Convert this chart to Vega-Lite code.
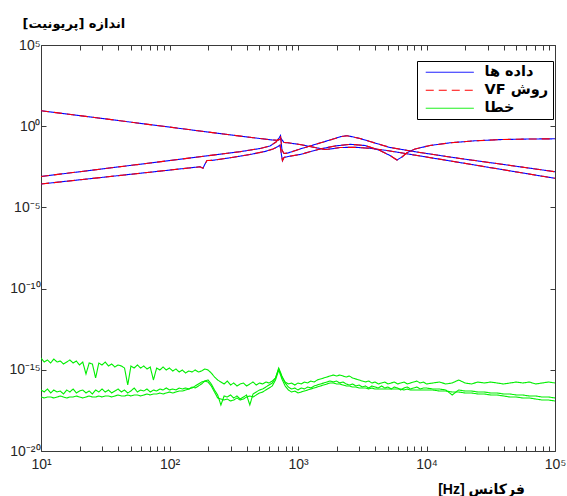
{
  "$schema": "https://vega.github.io/schema/vega-lite/v6.json",
  "width": 514,
  "height": 406,
  "autosize": {"type": "none"},
  "padding": {"left": 41, "top": 45, "right": 12, "bottom": 45},
  "background": "white",
  "config": {
    "view": {"stroke": null},
    "font": "Liberation Sans",
    "axis": {
      "grid": false,
      "domainColor": "#3a3a3a",
      "tickColor": "#3a3a3a",
      "domainWidth": 1,
      "tickWidth": 1,
      "labelColor": "#262626",
      "labelFont": "Liberation Sans",
      "labelFontSize": 14,
      "labelFlush": false,
      "labelOverlap": false
    }
  },
  "datasets": {
    "resp": [
      {"f": 10, "curve": "A", "m": 9.0},
      {"f": 28.8, "curve": "A", "m": 3.11},
      {"f": 70.5, "curve": "A", "m": 1.256},
      {"f": 172.6, "curve": "A", "m": 0.506},
      {"f": 422.9, "curve": "A", "m": 0.2074},
      {"f": 628.1, "curve": "A", "m": 0.1413},
      {"f": 698.6, "curve": "A", "m": 0.1355},
      {"f": 737.7, "curve": "A", "m": 0.1749},
      {"f": 778, "curve": "A", "m": 0.0991},
      {"f": 835.6, "curve": "A", "m": 0.095},
      {"f": 1037, "curve": "A", "m": 0.0746},
      {"f": 1355, "curve": "A", "m": 0.0488},
      {"f": 1622, "curve": "A", "m": 0.0367},
      {"f": 1841, "curve": "A", "m": 0.0406},
      {"f": 2123, "curve": "A", "m": 0.0488},
      {"f": 2780, "curve": "A", "m": 0.0502},
      {"f": 3631, "curve": "A", "m": 0.0436},
      {"f": 4929, "curve": "A", "m": 0.0319},
      {"f": 7047, "curve": "A", "m": 0.02},
      {"f": 15240, "curve": "A", "m": 0.0073},
      {"f": 37320, "curve": "A", "m": 0.00225},
      {"f": 100000, "curve": "A", "m": 0.000619},

      {"f": 10, "curve": "B", "m": 0.0008},
      {"f": 28.8, "curve": "B", "m": 0.00225},
      {"f": 70.5, "curve": "B", "m": 0.00542},
      {"f": 172.6, "curve": "B", "m": 0.01324},
      {"f": 353.9, "curve": "B", "m": 0.0269},
      {"f": 505.8, "curve": "B", "m": 0.0424},
      {"f": 605.3, "curve": "B", "m": 0.0604},
      {"f": 674.5, "curve": "B", "m": 0.1064},
      {"f": 711.6, "curve": "B", "m": 0.1875},
      {"f": 730.9, "curve": "B", "m": 0.2673},
      {"f": 750.4, "curve": "B", "m": 0.0342},
      {"f": 778, "curve": "B", "m": 0.0208},
      {"f": 835.6, "curve": "B", "m": 0.0224},
      {"f": 1037, "curve": "B", "m": 0.0394},
      {"f": 1483, "curve": "B", "m": 0.0925},
      {"f": 1941, "curve": "B", "m": 0.175},
      {"f": 2150, "curve": "B", "m": 0.229},
      {"f": 2405, "curve": "B", "m": 0.26},
      {"f": 2700, "curve": "B", "m": 0.216},
      {"f": 3036, "curve": "B", "m": 0.175},
      {"f": 3631, "curve": "B", "m": 0.1143},
      {"f": 5200, "curve": "B", "m": 0.0488},
      {"f": 8899, "curve": "B", "m": 0.024},
      {"f": 18230, "curve": "B", "m": 0.01026},
      {"f": 37320, "curve": "B", "m": 0.0047},
      {"f": 100000, "curve": "B", "m": 0.001578},

      {"f": 10, "curve": "C", "m": 0.000276},
      {"f": 28.8, "curve": "C", "m": 0.000684},
      {"f": 70.5, "curve": "C", "m": 0.001469},
      {"f": 157.8, "curve": "C", "m": 0.00294},
      {"f": 172.6, "curve": "C", "m": 0.00316},
      {"f": 182.3, "curve": "C", "m": 0.00259},
      {"f": 188.9, "curve": "C", "m": 0.0047},
      {"f": 195.8, "curve": "C", "m": 0.00773},
      {"f": 214.2, "curve": "C", "m": 0.00783},
      {"f": 295.8, "curve": "C", "m": 0.01132},
      {"f": 422.9, "curve": "C", "m": 0.01807},
      {"f": 553.4, "curve": "C", "m": 0.0277},
      {"f": 638.8, "curve": "C", "m": 0.0394},
      {"f": 698.6, "curve": "C", "m": 0.0562},
      {"f": 724.4, "curve": "C", "m": 0.0695},
      {"f": 744, "curve": "C", "m": 0.01687},
      {"f": 756.8, "curve": "C", "m": 0.00752},
      {"f": 778, "curve": "C", "m": 0.01183},
      {"f": 835.6, "curve": "C", "m": 0.01361},
      {"f": 1037, "curve": "C", "m": 0.01807},
      {"f": 1483, "curve": "C", "m": 0.0394},
      {"f": 1941, "curve": "C", "m": 0.0604},
      {"f": 2541, "curve": "C", "m": 0.0767},
      {"f": 3321, "curve": "C", "m": 0.0648},
      {"f": 4345, "curve": "C", "m": 0.0319},
      {"f": 5200, "curve": "C", "m": 0.0157},
      {"f": 5893, "curve": "C", "m": 0.0083},
      {"f": 6442, "curve": "C", "m": 0.01268},
      {"f": 7047, "curve": "C", "m": 0.0233},
      {"f": 8147, "curve": "C", "m": 0.0394},
      {"f": 10640, "curve": "C", "m": 0.0648},
      {"f": 15240, "curve": "C", "m": 0.0951},
      {"f": 23840, "curve": "C", "m": 0.1262},
      {"f": 37320, "curve": "C", "m": 0.1496},
      {"f": 63830, "curve": "C", "m": 0.163},
      {"f": 100000, "curve": "C", "m": 0.1675}
    ],
    "err": [
      {"f": 10, "a": 5.33e-15, "b": 5.70e-17, "c": 2.11e-17},
      {"f": 10.59, "a": 3.02e-15, "b": 4.30e-17, "c": 1.84e-17},
      {"f": 11.22, "a": 4.02e-15, "b": 6.58e-17, "c": 2.11e-17},
      {"f": 11.89, "a": 2.62e-15, "b": 3.73e-17, "c": 2.11e-17},
      {"f": 12.59, "a": 4.62e-15, "b": 5.70e-17, "c": 1.84e-17},
      {"f": 13.34, "a": 3.02e-15, "b": 4.30e-17, "c": 2.11e-17},
      {"f": 14.13, "a": 3.48e-15, "b": 4.95e-17, "c": 2.44e-17},
      {"f": 14.96, "a": 2.28e-15, "b": 3.24e-17, "c": 2.11e-17},
      {"f": 15.85, "a": 3.02e-15, "b": 5.70e-17, "c": 1.84e-17},
      {"f": 16.79, "a": 4.02e-15, "b": 4.30e-17, "c": 2.11e-17},
      {"f": 17.78, "a": 2.62e-15, "b": 6.58e-17, "c": 2.11e-17},
      {"f": 18.84, "a": 3.48e-15, "b": 3.73e-17, "c": 2.44e-17},
      {"f": 19.95, "a": 1.98e-15, "b": 4.95e-17, "c": 2.11e-17},
      {"f": 21.13, "a": 3.02e-15, "b": 5.70e-17, "c": 1.84e-17},
      {"f": 22.39, "a": 5.52e-16, "b": 3.73e-17, "c": 2.11e-17},
      {"f": 23.71, "a": 2.62e-15, "b": 4.95e-17, "c": 2.44e-17},
      {"f": 25.12, "a": 2.28e-15, "b": 3.24e-17, "c": 2.11e-17},
      {"f": 26.61, "a": 3.13e-16, "b": 5.70e-17, "c": 2.11e-17},
      {"f": 28.18, "a": 2.62e-15, "b": 4.30e-17, "c": 2.44e-17},
      {"f": 29.85, "a": 1.98e-15, "b": 6.58e-17, "c": 2.11e-17},
      {"f": 31.62, "a": 3.02e-15, "b": 4.30e-17, "c": 2.44e-17},
      {"f": 33.5, "a": 1.71e-15, "b": 5.70e-17, "c": 2.44e-17},
      {"f": 35.48, "a": 2.28e-15, "b": 3.73e-17, "c": 2.11e-17},
      {"f": 37.58, "a": 1.49e-15, "b": 4.95e-17, "c": 2.44e-17},
      {"f": 39.81, "a": 1.98e-15, "b": 6.58e-17, "c": 2.81e-17},
      {"f": 42.17, "a": 1.71e-15, "b": 4.30e-17, "c": 2.44e-17},
      {"f": 44.67, "a": 1.29e-15, "b": 5.70e-17, "c": 2.44e-17},
      {"f": 47.32, "a": 1.16e-16, "b": 3.73e-17, "c": 2.81e-17},
      {"f": 50.12, "a": 1.71e-15, "b": 4.95e-17, "c": 2.44e-17},
      {"f": 53.09, "a": 1.29e-15, "b": 7.57e-17, "c": 2.81e-17},
      {"f": 56.23, "a": 1.98e-15, "b": 4.30e-17, "c": 2.81e-17},
      {"f": 59.57, "a": 1.29e-15, "b": 5.70e-17, "c": 2.44e-17},
      {"f": 63.1, "a": 1.71e-15, "b": 4.95e-17, "c": 2.81e-17},
      {"f": 66.83, "a": 1.12e-15, "b": 6.58e-17, "c": 3.24e-17},
      {"f": 70.79, "a": 1.49e-15, "b": 4.30e-17, "c": 2.81e-17},
      {"f": 74.99, "a": 2.36e-16, "b": 5.70e-17, "c": 3.24e-17},
      {"f": 79.43, "a": 1.29e-15, "b": 4.95e-17, "c": 3.24e-17},
      {"f": 84.14, "a": 9.7e-16, "b": 6.58e-17, "c": 3.73e-17},
      {"f": 89.13, "a": 1.49e-15, "b": 5.70e-17, "c": 3.24e-17},
      {"f": 94.41, "a": 9.7e-16, "b": 7.57e-17, "c": 3.73e-17},
      {"f": 100, "a": 1.29e-15, "b": 5.70e-17, "c": 4.30e-17},
      {"f": 105.9, "a": 8.43e-16, "b": 6.58e-17, "c": 3.73e-17},
      {"f": 112.2, "a": 1.12e-15, "b": 5.70e-17, "c": 4.30e-17},
      {"f": 118.9, "a": 7.33e-16, "b": 7.57e-17, "c": 4.95e-17},
      {"f": 125.9, "a": 9.7e-16, "b": 6.58e-17, "c": 4.95e-17},
      {"f": 133.4, "a": 6.35e-16, "b": 7.57e-17, "c": 5.70e-17},
      {"f": 141.3, "a": 8.43e-16, "b": 6.58e-17, "c": 6.58e-17},
      {"f": 149.6, "a": 7.33e-16, "b": 8.73e-17, "c": 7.57e-17},
      {"f": 158.5, "a": 9.7e-16, "b": 7.57e-17, "c": 1.01e-16},
      {"f": 167.9, "a": 7.33e-16, "b": 1.01e-16, "c": 1.34e-16},
      {"f": 177.8, "a": 8.43e-16, "b": 1.34e-16, "c": 1.77e-16},
      {"f": 188.4, "a": 1.12e-15, "b": 2.04e-16, "c": 2.04e-16},
      {"f": 199.5, "a": 9.7e-16, "b": 2.36e-16, "c": 1.77e-16},
      {"f": 211.3, "a": 6.35e-16, "b": 1.34e-16, "c": 1.01e-16},
      {"f": 223.9, "a": 3.61e-16, "b": 5.70e-17, "c": 4.30e-17},
      {"f": 237.1, "a": 2.36e-16, "b": 2.81e-17, "c": 1.84e-17},
      {"f": 251.2, "a": 1.77e-16, "b": 6.81e-18, "c": 1.59e-17},
      {"f": 266.1, "a": 1.34e-16, "b": 2.44e-17, "c": 1.38e-17},
      {"f": 281.8, "a": 2.04e-16, "b": 2.11e-17, "c": 1.59e-17},
      {"f": 298.5, "a": 1.16e-16, "b": 2.81e-17, "c": 1.20e-17},
      {"f": 316.2, "a": 1.54e-16, "b": 1.84e-17, "c": 1.38e-17},
      {"f": 335, "a": 1.01e-16, "b": 2.44e-17, "c": 1.84e-17},
      {"f": 354.8, "a": 1.34e-16, "b": 1.59e-17, "c": 1.38e-17},
      {"f": 375.8, "a": 1.54e-16, "b": 2.11e-17, "c": 1.59e-17},
      {"f": 398.1, "a": 1.01e-16, "b": 2.81e-17, "c": 2.11e-17},
      {"f": 421.7, "a": 1.34e-16, "b": 6.81e-18, "c": 2.44e-17},
      {"f": 446.7, "a": 1.77e-16, "b": 3.24e-17, "c": 2.11e-17},
      {"f": 473.2, "a": 1.16e-16, "b": 4.30e-17, "c": 2.81e-17},
      {"f": 501.2, "a": 1.54e-16, "b": 5.70e-17, "c": 3.73e-17},
      {"f": 530.9, "a": 1.34e-16, "b": 6.58e-17, "c": 4.30e-17},
      {"f": 562.3, "a": 1.77e-16, "b": 8.73e-17, "c": 5.70e-17},
      {"f": 595.7, "a": 1.54e-16, "b": 1.16e-16, "c": 7.57e-17},
      {"f": 631, "a": 2.04e-16, "b": 1.54e-16, "c": 1.01e-16},
      {"f": 668.3, "a": 3.13e-16, "b": 3.13e-16, "c": 2.36e-16},
      {"f": 707.9, "a": 1.12e-15, "b": 1.29e-15, "c": 9.7e-16},
      {"f": 749.9, "a": 3.61e-16, "b": 4.15e-16, "c": 2.72e-16},
      {"f": 794.3, "a": 1.77e-16, "b": 1.54e-16, "c": 1.01e-16},
      {"f": 841.4, "a": 1.34e-16, "b": 8.73e-17, "c": 5.70e-17},
      {"f": 891.3, "a": 1.54e-16, "b": 6.58e-17, "c": 4.30e-17},
      {"f": 944.1, "a": 1.16e-16, "b": 7.57e-17, "c": 4.95e-17},
      {"f": 1000, "a": 1.54e-16, "b": 5.70e-17, "c": 3.73e-17},
      {"f": 1059, "a": 1.34e-16, "b": 7.57e-17, "c": 4.30e-17},
      {"f": 1122, "a": 1.77e-16, "b": 6.58e-17, "c": 4.95e-17},
      {"f": 1189, "a": 1.54e-16, "b": 8.73e-17, "c": 5.70e-17},
      {"f": 1259, "a": 2.04e-16, "b": 7.57e-17, "c": 6.58e-17},
      {"f": 1334, "a": 1.77e-16, "b": 1.01e-16, "c": 7.57e-17},
      {"f": 1413, "a": 2.36e-16, "b": 1.16e-16, "c": 8.73e-17},
      {"f": 1496, "a": 2.72e-16, "b": 1.34e-16, "c": 1.01e-16},
      {"f": 1585, "a": 3.13e-16, "b": 1.54e-16, "c": 1.16e-16},
      {"f": 1679, "a": 3.61e-16, "b": 1.77e-16, "c": 1.34e-16},
      {"f": 1778, "a": 4.15e-16, "b": 2.04e-16, "c": 1.54e-16},
      {"f": 1884, "a": 4.79e-16, "b": 1.77e-16, "c": 1.54e-16},
      {"f": 1995, "a": 4.15e-16, "b": 2.04e-16, "c": 1.34e-16},
      {"f": 2113, "a": 4.79e-16, "b": 1.54e-16, "c": 1.34e-16},
      {"f": 2239, "a": 4.15e-16, "b": 1.77e-16, "c": 1.16e-16},
      {"f": 2371, "a": 3.61e-16, "b": 1.34e-16, "c": 1.01e-16},
      {"f": 2512, "a": 4.15e-16, "b": 1.16e-16, "c": 1.01e-16},
      {"f": 2661, "a": 3.13e-16, "b": 1.34e-16, "c": 8.73e-17},
      {"f": 2818, "a": 2.72e-16, "b": 1.01e-16, "c": 8.73e-17},
      {"f": 2985, "a": 2.36e-16, "b": 1.16e-16, "c": 7.57e-17},
      {"f": 3162, "a": 2.04e-16, "b": 8.73e-17, "c": 7.57e-17},
      {"f": 3350, "a": 1.77e-16, "b": 1.01e-16, "c": 7.57e-17},
      {"f": 3548, "a": 2.04e-16, "b": 7.57e-17, "c": 6.58e-17},
      {"f": 3758, "a": 1.54e-16, "b": 1.01e-16, "c": 7.57e-17},
      {"f": 3981, "a": 1.77e-16, "b": 8.73e-17, "c": 6.58e-17},
      {"f": 4217, "a": 1.34e-16, "b": 7.57e-17, "c": 6.58e-17},
      {"f": 4467, "a": 1.54e-16, "b": 1.01e-16, "c": 6.58e-17},
      {"f": 4732, "a": 1.77e-16, "b": 7.57e-17, "c": 6.58e-17},
      {"f": 5012, "a": 1.34e-16, "b": 8.73e-17, "c": 6.58e-17},
      {"f": 5309, "a": 1.54e-16, "b": 6.58e-17, "c": 6.58e-17},
      {"f": 5623, "a": 1.77e-16, "b": 8.73e-17, "c": 6.58e-17},
      {"f": 5957, "a": 1.34e-16, "b": 7.57e-17, "c": 6.58e-17},
      {"f": 6310, "a": 1.54e-16, "b": 5.70e-17, "c": 6.58e-17},
      {"f": 6683, "a": 1.77e-16, "b": 7.57e-17, "c": 5.70e-17},
      {"f": 7079, "a": 1.34e-16, "b": 8.73e-17, "c": 6.58e-17},
      {"f": 7499, "a": 1.54e-16, "b": 6.58e-17, "c": 5.70e-17},
      {"f": 7943, "a": 1.77e-16, "b": 7.57e-17, "c": 5.70e-17},
      {"f": 8414, "a": 2.04e-16, "b": 8.73e-17, "c": 5.70e-17},
      {"f": 8913, "a": 1.54e-16, "b": 6.58e-17, "c": 5.70e-17},
      {"f": 9441, "a": 1.77e-16, "b": 7.57e-17, "c": 5.70e-17},
      {"f": 10000, "a": 1.34e-16, "b": 7.57e-17, "c": 5.70e-17},
      {"f": 11220, "a": 1.54e-16, "b": 6.58e-17, "c": 5.70e-17},
      {"f": 12590, "a": 1.77e-16, "b": 6.58e-17, "c": 4.95e-17},
      {"f": 14130, "a": 1.34e-16, "b": 5.70e-17, "c": 4.95e-17},
      {"f": 15850, "a": 1.54e-16, "b": 2.81e-17, "c": 4.30e-17},
      {"f": 17780, "a": 2.36e-16, "b": 5.70e-17, "c": 4.30e-17},
      {"f": 19950, "a": 1.54e-16, "b": 4.95e-17, "c": 3.73e-17},
      {"f": 22390, "a": 1.34e-16, "b": 4.95e-17, "c": 3.73e-17},
      {"f": 25120, "a": 1.77e-16, "b": 4.30e-17, "c": 3.24e-17},
      {"f": 28180, "a": 1.54e-16, "b": 4.30e-17, "c": 3.24e-17},
      {"f": 31620, "a": 1.77e-16, "b": 3.73e-17, "c": 2.81e-17},
      {"f": 35480, "a": 1.54e-16, "b": 3.73e-17, "c": 2.81e-17},
      {"f": 39810, "a": 1.34e-16, "b": 3.24e-17, "c": 2.44e-17},
      {"f": 44670, "a": 1.54e-16, "b": 3.24e-17, "c": 2.11e-17},
      {"f": 50120, "a": 1.77e-16, "b": 2.81e-17, "c": 2.11e-17},
      {"f": 56230, "a": 1.54e-16, "b": 2.81e-17, "c": 1.84e-17},
      {"f": 63100, "a": 1.77e-16, "b": 2.44e-17, "c": 1.84e-17},
      {"f": 70790, "a": 1.34e-16, "b": 2.44e-17, "c": 1.59e-17},
      {"f": 79430, "a": 1.54e-16, "b": 2.11e-17, "c": 1.38e-17},
      {"f": 89130, "a": 1.77e-16, "b": 2.11e-17, "c": 1.38e-17},
      {"f": 100000, "a": 1.54e-16, "b": 1.84e-17, "c": 1.20e-17}
    ]
  },
  "layer": [
    {
      "data": {"name": "resp"},
      "mark": {"type": "line", "strokeWidth": 1.1, "clip": true},
      "encoding": {
        "x": {
          "field": "f", "type": "quantitative",
          "scale": {"type": "log", "domain": [10, 100000], "nice": false},
          "axis": {
            "orient": "bottom",
            "values": [10, 20, 30, 40, 50, 60, 70, 80, 90, 100, 200, 300, 400, 500, 600, 700, 800, 900, 1000, 2000, 3000, 4000, 5000, 6000, 7000, 8000, 9000, 10000, 20000, 30000, 40000, 50000, 60000, 70000, 80000, 90000, 100000],
            "labelExpr": "datum.value == 10 ? '10¹' : datum.value == 100 ? '10²' : datum.value == 1000 ? '10³' : datum.value == 10000 ? '10⁴' : datum.value == 100000 ? '10⁵' : ''",
            "tickSize": -5,
            "labelPadding": 11,
            "title": "\u202Bفرکانس [Hz]\u202C",
            "titleX": 440,
            "titleY": 38,
            "titleAlign": "center",
            "titleBaseline": "middle",
            "titleFont": "Liberation Sans, DejaVu Sans",
            "titleFontSize": 14,
            "titleFontWeight": "bold",
            "titleColor": "#000"
          }
        },
        "y": {
          "field": "m", "type": "quantitative",
          "scale": {"type": "log", "domain": [1e-20, 100000], "nice": false},
          "axis": {
            "orient": "left",
            "values": [1e-20, 1e-15, 1e-10, 1e-5, 1, 100000],
            "labelExpr": "datum.value > 1000 ? '10⁵' : datum.value > 0.01 ? '10⁰' : datum.value > 1e-7 ? '10⁻⁵' : datum.value > 1e-12 ? '10⁻¹⁰' : datum.value > 1e-17 ? '10⁻¹⁵' : '10⁻²⁰'",
            "tickSize": -5,
            "labelPadding": 6,
            "labelOffset": 0,
            "title": "\u202Bاندازه [پریونیت]\u202C",
            "titleAngle": 0,
            "titleX": -19,
            "titleY": -22,
            "titleAlign": "left",
            "titleBaseline": "middle",
            "titleFont": "DejaVu Sans",
            "titleFontSize": 13,
            "titleFontWeight": "bold",
            "titleColor": "#000"
          }
        },
        "detail": {"field": "curve"},
        "color": {
          "datum": "داده ها", "type": "nominal",
          "scale": {"domain": ["داده ها", "\u202Bروش VF\u202C", "خطا"], "range": ["#0000ff", "#ff0000", "#00ee00"]},
          "legend": {
            "title": null, "orient": "none", "legendX": 376, "legendY": 16,
            "symbolType": "M-4,0H4", "symbolSize": 144, "symbolOffset": 21.5, "symbolStrokeWidth": 1,
            "labelOffset": 27.5, "labelFont": "DejaVu Sans", "labelFontSize": 14.5, "labelFontWeight": "bold", "labelColor": "#000",
            "padding": 4, "rowPadding": 3, "strokeColor": "#000", "fillColor": "#fff"
          }
        },
        "strokeDash": {
          "datum": "داده ها", "type": "nominal",
          "scale": {"domain": ["داده ها", "\u202Bروش VF\u202C", "خطا"], "range": [[1, 0], [8, 5], [1, 0]]},
          "legend": {
            "title": null, "orient": "none", "legendX": 376, "legendY": 16,
            "symbolType": "M-4,0H4", "symbolSize": 144, "symbolOffset": 21.5, "symbolStrokeWidth": 1,
            "labelOffset": 27.5, "labelFont": "DejaVu Sans", "labelFontSize": 14.5, "labelFontWeight": "bold", "labelColor": "#000",
            "padding": 4, "rowPadding": 3, "strokeColor": "#000", "fillColor": "#fff"
          }
        }
      }
    },
    {
      "data": {"name": "resp"},
      "mark": {"type": "line", "strokeWidth": 1.1, "clip": true},
      "encoding": {
        "x": {
          "field": "f", "type": "quantitative",
          "axis": {
            "orient": "top",
            "values": [10, 20, 30, 40, 50, 60, 70, 80, 90, 100, 200, 300, 400, 500, 600, 700, 800, 900, 1000, 2000, 3000, 4000, 5000, 6000, 7000, 8000, 9000, 10000, 20000, 30000, 40000, 50000, 60000, 70000, 80000, 90000, 100000],
            "labels": false, "tickSize": -5, "title": null
          }
        },
        "y": {
          "field": "m", "type": "quantitative",
          "axis": {
            "orient": "right",
            "values": [1e-20, 1e-15, 1e-10, 1e-5, 1, 100000],
            "labels": false, "tickSize": -5, "title": null
          }
        },
        "detail": {"field": "curve"},
        "color": {"datum": "\u202Bروش VF\u202C", "type": "nominal"},
        "strokeDash": {"datum": "\u202Bروش VF\u202C", "type": "nominal"}
      }
    },
    {
      "data": {"name": "err"},
      "transform": [{"fold": ["a", "b", "c"], "as": ["curve", "m"]}],
      "mark": {"type": "line", "strokeWidth": 1.1, "clip": true},
      "encoding": {
        "x": {"field": "f", "type": "quantitative", "axis": null},
        "y": {"field": "m", "type": "quantitative", "axis": null},
        "detail": {"field": "curve"},
        "color": {"datum": "خطا", "type": "nominal"},
        "strokeDash": {"datum": "خطا", "type": "nominal"}
      }
    }
  ],
  "resolve": {"axis": {"x": "independent", "y": "independent"}}
}
